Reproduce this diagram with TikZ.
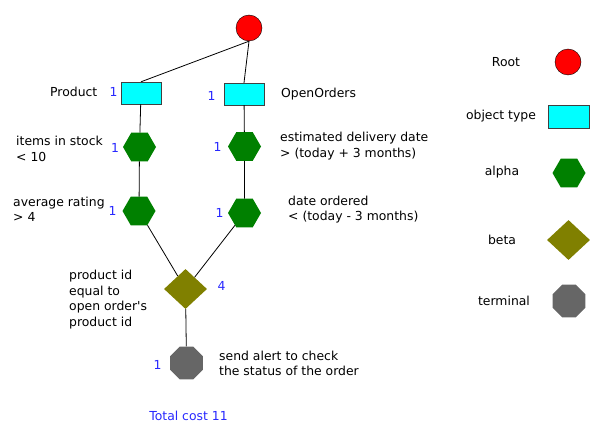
\documentclass[tikz,border=0pt]{standalone}
\usepackage{fontspec}
\setmainfont{DejaVu Sans}
\usetikzlibrary{shapes.geometric}
\definecolor{costBlue}{RGB}{40,40,255}
\definecolor{typeCyan}{RGB}{0,255,255}
\definecolor{alphaGreen}{RGB}{0,128,0}
\definecolor{betaOlive}{RGB}{128,128,0}
\definecolor{termGray}{RGB}{102,102,102}

\begin{document}
\begin{tikzpicture}[x=1pt,y=-1pt,
    every node/.style={font=\fontsize{12.4}{15.5}\selectfont},
    rootNode/.style={circle,draw=black,fill=red,minimum size=26pt,inner sep=0pt},
    typeNode/.style={rectangle,draw=black!75,fill=typeCyan,minimum width=40pt,minimum height=22pt,inner sep=0pt},
    alphaNode/.style={regular polygon,regular polygon sides=6,fill=alphaGreen,minimum size=33pt,inner sep=0pt},
    betaNode/.style={diamond,fill=betaOlive,minimum width=43pt,minimum height=40pt,inner sep=0pt},
    termNode/.style={regular polygon,regular polygon sides=8,fill=termGray,minimum size=35.5pt,inner sep=0pt},
    cost/.style={text=costBlue},
    note/.style={align=left,anchor=west,inner sep=0pt}]
    \useasboundingbox (0,0) rectangle (611,436);

    % network
    \node[rootNode] (root) at (249,28) {};
    \node[typeNode] (product) at (141,93) {};
    \node[typeNode] (openOrders) at (244,94) {};
    \node[alphaNode] (prodAlphaA) at (139.5,147) {};
    \node[alphaNode] (prodAlphaB) at (139,211) {};
    \node[alphaNode] (orderAlphaA) at (244.5,146.5) {};
    \node[alphaNode] (orderAlphaB) at (244.5,213) {};
    \node[betaNode] (join) at (185.5,289) {};
    \node[termNode] (alert) at (186.5,363) {};

    \draw[line width=0.8pt] (root.south) -- (product.north);
    \draw[line width=0.8pt] (root.south) -- (openOrders.north);
    \draw[line width=0.8pt] (product) -- (prodAlphaA) -- (prodAlphaB) -- (join);
    \draw[line width=0.8pt] (openOrders) -- (orderAlphaA) -- (orderAlphaB) -- (join);
    \draw[line width=0.8pt] (join) -- (alert);

    % labels
    \node[note] (productText) at (50,92) {Product};
    \node[note] (ordersText) at (281,94.5) {OpenOrders};
    \node[note] (stockText) at (16,149) {items in stock\\< 10};
    \node[note] (ratingText) at (13,209.5) {average rating\\> 4};
    \node[note] (deliveryText) at (280,146) {estimated delivery date\\> (today + 3 months)};
    \node[note] (orderedText) at (288,209.5) {date ordered\\< (today - 3 months)};
    \node[note] (joinText) at (69,299.5) {product id\\equal to\\open order\textquotesingle s\\product id};
    \node[note] (alertText) at (219,363.5) {send alert to check\\the status of the order};

    % costs
    \node[cost] (productCost) at (113.5,91.5) {1};
    \node[cost] (ordersCost) at (211.5,96) {1};
    \node[cost] (stockCost) at (115,147.5) {1};
    \node[cost] (ratingCost) at (112.5,211) {1};
    \node[cost] (deliveryCost) at (217.5,147) {1};
    \node[cost] (orderedCost) at (219.5,213) {1};
    \node[cost] (joinCost) at (221.5,286) {4};
    \node[cost] (alertCost) at (157.5,364.5) {1};
    \node[cost] (totalCost) at (188.5,416) {Total cost 11};

    % legend
    \node (rootKey) at (506,62) {Root};
    \node[rootNode] (rootSym) at (568,62) {};
    \node (typeKey) at (501,116) {object type};
    \node[typeNode,minimum width=41pt,minimum height=23pt] (typeSym) at (568.5,116.5) {};
    \node (alphaKey) at (502,172.5) {alpha};
    \node[alphaNode] (alphaSym) at (569,173) {};
    \node (betaKey) at (502,240) {beta};
    \node[betaNode] (betaSym) at (568.5,240) {};
    \node (termKey) at (504,301) {terminal};
    \node[termNode] (termSym) at (569,301) {};
\end{tikzpicture}
\end{document}
